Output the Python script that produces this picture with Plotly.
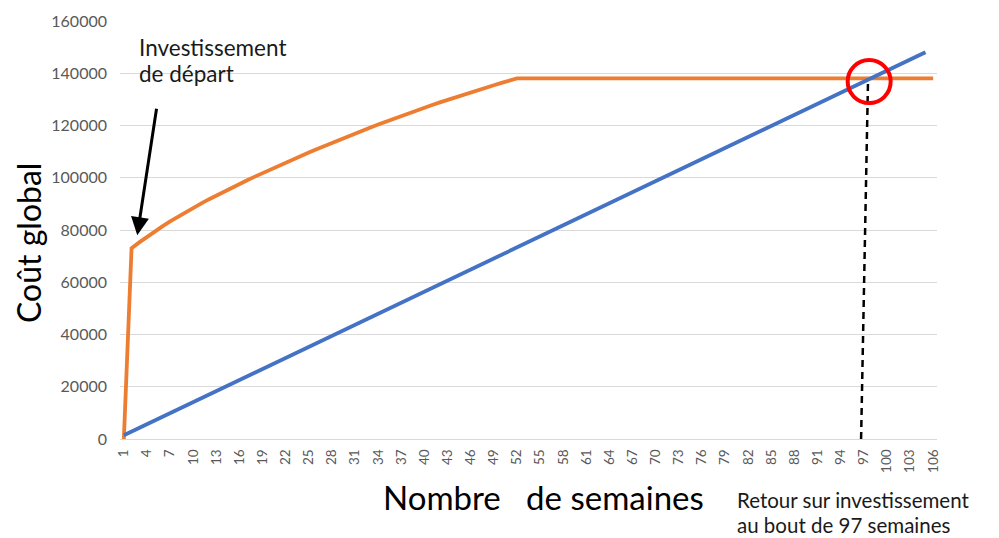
import plotly.graph_objects as go

# Weeks (category axis) and the labels shown every third week
weeks = list(range(1, 107))
tick_weeks = [1, 4, 7, 10, 13, 16, 19, 22, 25, 28, 31, 34, 37, 40, 43, 46, 49, 52, 55,
              58, 61, 64, 67, 70, 73, 76, 79, 82, 85, 88, 91, 94, 97, 100, 103, 106]

# Cumulative cost with the initial investment (orange)
cout_investissement = [
    0, 73000, 75250, 77400, 79450, 81400, 83270, 85070, 86810, 88490,
    90120, 91700, 93240, 94740, 96210, 97650, 99060, 100440, 101800, 103145,
    104475, 105790, 107090, 108375, 109645, 110900, 112140, 113365, 114575, 115770,
    116950, 118115, 119265, 120395, 121510, 122605, 123685, 124750, 125795, 126825,
    127840, 128840, 129825, 130795, 131750, 132690, 133615, 134525, 135420, 136295,
    137155, 138000, 138000, 138000, 138000, 138000, 138000, 138000, 138000, 138000,
    138000, 138000, 138000, 138000, 138000, 138000, 138000, 138000, 138000, 138000,
    138000, 138000, 138000, 138000, 138000, 138000, 138000, 138000, 138000, 138000,
    138000, 138000, 138000, 138000, 138000, 138000, 138000, 138000, 138000, 138000,
    138000, 138000, 138000, 138000, 138000, 138000, 138000, 138000, 138000, 138000,
    138000, 138000, 138000, 138000, 138000, 138000,
]

# Cumulative cost without investment (blue)
cout_sans_investissement = [
    1410, 2820, 4230, 5640, 7050, 8460, 9870, 11280, 12690, 14100,
    15510, 16920, 18330, 19740, 21150, 22560, 23970, 25380, 26790, 28200,
    29610, 31020, 32430, 33840, 35250, 36660, 38070, 39480, 40890, 42300,
    43710, 45120, 46530, 47940, 49350, 50760, 52170, 53580, 54990, 56400,
    57810, 59220, 60630, 62040, 63450, 64860, 66270, 67680, 69090, 70500,
    71910, 73320, 74730, 76140, 77550, 78960, 80370, 81780, 83190, 84600,
    86010, 87420, 88830, 90240, 91650, 93060, 94470, 95880, 97290, 98700,
    100110, 101520, 102930, 104340, 105750, 107160, 108570, 109980, 111390, 112800,
    114210, 115620, 117030, 118440, 119850, 121260, 122670, 124080, 125490, 126900,
    128310, 129720, 131130, 132540, 133950, 135360, 136770, 138180, 139590, 141000,
    142410, 143820, 145230, 146640, 148050,
]

semaine_retour = 97
cout_retour = 138000

FONT = "Lato"
GRID = "#d9d9d9"
TICK = "#595959"
PLOT_L, PLOT_W, PLOT_B, PLOT_H = 120, 817, 439, 418


def px_x(px):
    return (px - PLOT_L) / PLOT_W


def px_y(py):
    return (PLOT_B - py) / PLOT_H


fig = go.Figure()
fig.add_trace(go.Scatter(
    x=weeks[:len(cout_investissement)], y=cout_investissement, mode="lines",
    line=dict(color="#ED7D31", width=3.8), hoverinfo="skip"))
fig.add_trace(go.Scatter(
    x=weeks[:len(cout_sans_investissement)], y=cout_sans_investissement, mode="lines",
    line=dict(color="#4472C4", width=3.8), hoverinfo="skip"))

# Dashed drop line from the break-even point to the axis
fig.add_shape(type="line", xref="x", yref="y",
              x0=semaine_retour - 0.35, y0=0, x1=semaine_retour + 0.55, y1=cout_retour - 600,
              line=dict(color="black", width=2.5, dash="7px,5px"))

# Red circle around the break-even point
fig.add_shape(type="circle", xref="x", yref="y",
              xsizemode="pixel", ysizemode="pixel",
              xanchor=semaine_retour + 0.7, yanchor=cout_retour - 1200,
              x0=-21.5, x1=21.5, y0=-21.5, y1=21.5,
              line=dict(color="#FF0000", width=4))

# Arrow pointing at the initial investment jump
fig.add_annotation(x=2.74, y=78000, xref="x", yref="y", text="",
                   showarrow=True, ax=19.5, ay=-128, axref="pixel", ayref="pixel",
                   arrowhead=2, arrowsize=1.2, arrowwidth=3, arrowcolor="black")


def texte(txt, x, y, size, color="#1a1a1a", xanchor="left", angle=0):
    fig.add_annotation(text=txt, xref="paper", yref="paper", x=px_x(x), y=px_y(y),
                       xanchor=xanchor, yanchor="middle", showarrow=False,
                       textangle=angle, borderpad=0,
                       font=dict(family=FONT, size=size, color=color))


texte("Investissement", 138, 47, 22.5)
texte("de départ", 138, 73, 22.5)
texte("Coût global", 28, 243, 32, color="black", xanchor="center", angle=-90)
texte("Nombre\u00a0\u00a0 de semaines", 543, 497, 33, color="black", xanchor="center")
texte("Retour sur investissement", 736, 500, 20.5)
texte("au bout de 97 semaines", 736, 525, 20.5)

fig.update_layout(
    width=999, height=538,
    margin=dict(l=120, r=62, t=21, b=99),
    plot_bgcolor="white", paper_bgcolor="white",
    showlegend=False,
    font=dict(family=FONT),
    xaxis=dict(range=[0.5, 106.5], tickmode="array", tickvals=tick_weeks,
               ticktext=[str(t) for t in tick_weeks], tickangle=-90,
               tickfont=dict(size=13.5, color=TICK), showgrid=False, zeroline=False,
               showline=True, linecolor=GRID, linewidth=1, ticks="",
               ticklabelstandoff=4),
    yaxis=dict(range=[0, 160000], dtick=20000, tickformat="d",
               tickfont=dict(size=16, color=TICK), gridcolor=GRID, gridwidth=1,
               zeroline=False, showline=False, ticks="", ticklabelstandoff=12),
)

fig.write_html("out.html")
